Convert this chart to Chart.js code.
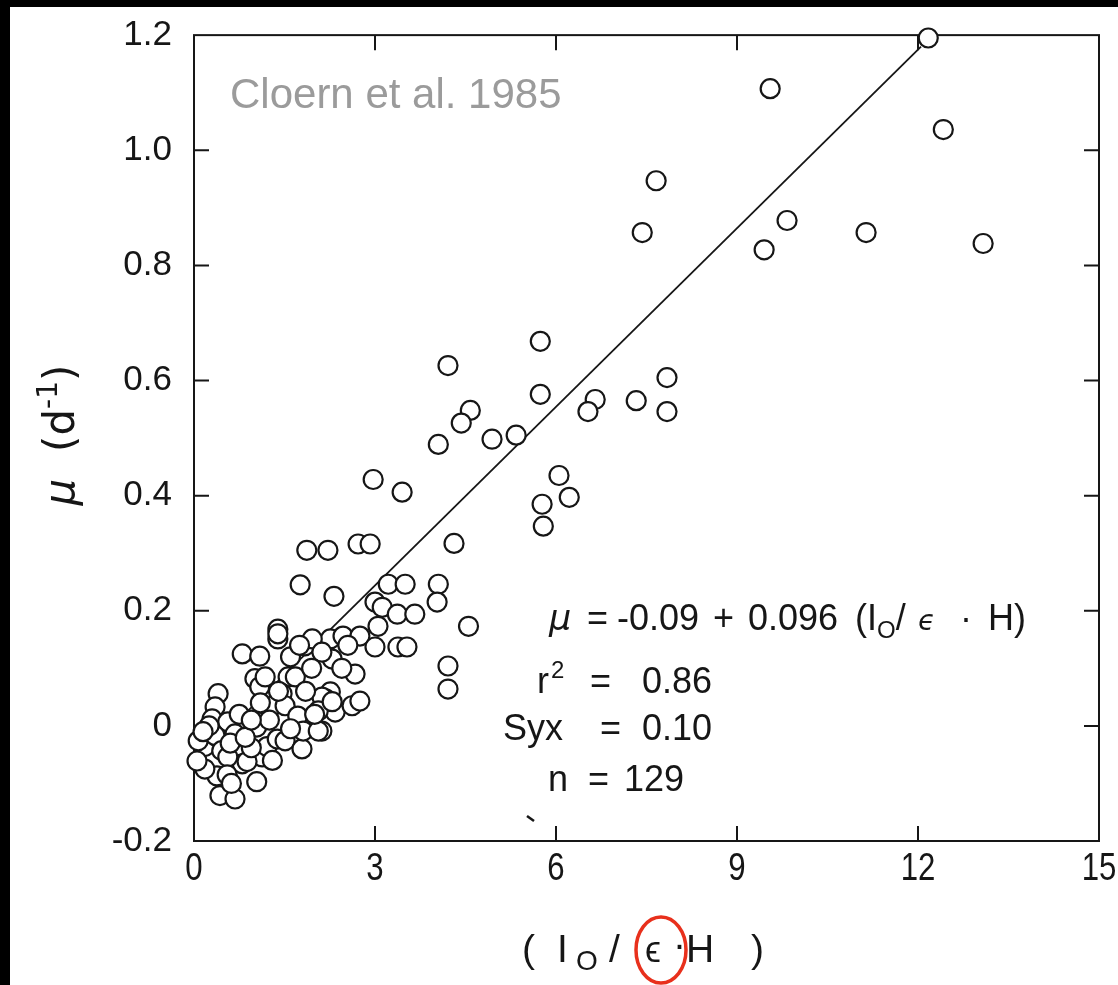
<!DOCTYPE html>
<html lang="en">
  <head>
    <meta charset="UTF-8" />
    <title>Cloern et al. 1985</title>
    <script src="https://cdn.jsdelivr.net/npm/chart.js@4.4.0/dist/chart.umd.min.js"></script>
    <style>
      html, body { margin: 0; padding: 0; background: #fff; }
      canvas { display: block; }
    </style>
  </head>
  <body>
    <canvas id="chart" width="1118" height="985"></canvas>
    <script>
      // light index Io / (eps . H)
      const lightIndex = [
        12.17, 9.55, 12.42, 7.66, 7.43, 9.83, 9.45, 11.14, 13.08, 5.74,
        4.21, 5.74, 7.84, 6.65, 7.33, 6.53, 7.84, 4.58, 4.43, 4.05,
        4.94, 5.34, 6.05, 6.22, 5.77, 5.79, 2.97, 3.45, 4.31, 1.87,
        2.22, 2.72, 2.92, 1.76, 2.32, 3.22, 3.5, 4.05, 4.03, 3.0,
        3.12, 3.37, 3.66, 4.55, 3.05, 2.26, 2.47, 2.75, 3.0, 3.38,
        3.53, 2.29, 2.67, 4.21, 4.21, 2.26, 2.18, 2.34, 2.62, 2.75,
        2.12, 1.39, 1.39, 1.39, 0.8, 1.09, 1.84, 1.96, 2.12, 1.01,
        1.09, 1.18, 1.56, 1.68, 1.46, 0.4, 0.35, 1.06, 1.31, 1.51,
        1.72, 2.12, 2.06, 2.29, 0.3, 0.56, 0.18, 0.07, 0.35, 0.68,
        0.46, 0.8, 0.38, 0.18, 1.04, 0.43, 0.68, 1.13, 1.21, 1.38,
        1.51, 1.79, 1.81, 2.06, 1.04, 0.56, 0.88, 0.05, 0.6, 0.95,
        0.25, 1.6, 1.25, 0.75, 1.85, 1.1, 0.55, 0.15, 1.95, 1.6,
        2.55, 1.75, 0.85, 1.4, 2.0, 0.62, 1.3, 2.45, 0.95
      ];
      // growth rate mu (d-1)
      const growthRate = [
        1.195, 1.107, 1.036, 0.947, 0.857, 0.878, 0.827, 0.857, 0.838, 0.668,
        0.626, 0.576, 0.605, 0.567, 0.565, 0.546, 0.546, 0.548, 0.526, 0.489,
        0.498, 0.505, 0.435, 0.397, 0.385, 0.347, 0.428, 0.406, 0.317, 0.305,
        0.305, 0.316, 0.316, 0.245, 0.225, 0.246, 0.246, 0.246, 0.215, 0.215,
        0.206, 0.194, 0.194, 0.173, 0.173, 0.151, 0.156, 0.156, 0.137, 0.137,
        0.137, 0.116, 0.09, 0.104, 0.064, 0.059, 0.047, 0.024, 0.035, 0.043,
        -0.009, 0.168, 0.151, 0.16, 0.125, 0.121, 0.139, 0.151, 0.128, 0.082,
        0.068, 0.085, 0.085, 0.085, 0.056, 0.056, 0.033, 0.007, 0.035, 0.035,
        0.017, 0.05, 0.026, 0.042, 0.012, 0.007, -0.036, -0.026, -0.017, -0.014,
        -0.043, -0.066, -0.087, -0.075, -0.097, -0.121, -0.127, -0.054, -0.036, -0.023,
        -0.026, -0.04, -0.009, -0.009, -0.002, -0.054, -0.062, -0.061, -0.03, -0.038,
        0.0, -0.005, 0.01, 0.02, 0.06, 0.04, -0.085, -0.01, 0.1, 0.12,
        0.14, 0.14, -0.02, 0.06, 0.02, -0.1, -0.06, 0.1, 0.01
      ];
      // regression line as drawn on the figure
      const fitX = [0.7, 12.05];
      const fitY = [0.006, 1.18];

      const xTickValues = [0, 3, 6, 9, 12, 15];
      const xTickLabels = ['0', '3', '6', '9', '12', '15'];
      const yTickValues = [-0.2, 0, 0.2, 0.4, 0.6, 0.8, 1.0, 1.2];
      const yTickLabels = ['-0.2', '0', '0.2', '0.4', '0.6', '0.8', '1.0', '1.2'];

      const SANS = "'Liberation Sans', Arial, Helvetica, sans-serif";
      const WIDE = "'DejaVu Sans', Verdana, sans-serif";
      const INK = '#161616';

      function labelFor(values, labels, v) {
        const i = values.findIndex(t => Math.abs(t - v) < 1e-6);
        return i < 0 ? '' : labels[i];
      }

      // draws text run by run, returns x after the last piece
      function runs(c, x, y, pieces) {
        pieces.forEach(p => {
          c.font = p.font;
          c.fillText(p.t, x, y + (p.dy || 0));
          x += c.measureText(p.t).width;
        });
        return x;
      }

      const framePlugin = {
        id: 'frame',
        beforeDraw(chart) {
          const c = chart.ctx;
          c.save();
          c.fillStyle = '#fff';
          c.fillRect(0, 0, chart.width, chart.height);
          c.fillStyle = '#000';
          c.fillRect(0, 0, chart.width, 7);
          c.fillRect(0, 0, 10, chart.height);
          c.restore();
        },
        beforeDatasetsDraw(chart) {
          const c = chart.ctx;
          const a = chart.chartArea;
          const sx = chart.scales.x;
          const sy = chart.scales.y;
          const len = 15;
          c.save();
          c.strokeStyle = INK;
          c.lineWidth = 2;
          c.strokeRect(a.left, a.top, a.right - a.left, a.bottom - a.top);
          c.beginPath();
          xTickValues.slice(1, -1).forEach(v => {
            const px = sx.getPixelForValue(v);
            c.moveTo(px, a.bottom); c.lineTo(px, a.bottom - len);
            c.moveTo(px, a.top); c.lineTo(px, a.top + len);
          });
          yTickValues.slice(1, -1).forEach(v => {
            const py = sy.getPixelForValue(v);
            c.moveTo(a.left, py); c.lineTo(a.left + len, py);
            c.moveTo(a.right, py); c.lineTo(a.right - len, py);
          });
          c.stroke();

          // x tick labels, condensed like the original typeface
          c.fillStyle = INK;
          c.textAlign = 'center';
          c.textBaseline = 'alphabetic';
          c.font = '39px ' + SANS;
          xTickValues.forEach((v, i) => {
            c.save();
            c.translate(sx.getPixelForValue(v), a.bottom + 39);
            c.scale(0.8, 1);
            c.fillText(xTickLabels[i], 0, 0);
            c.restore();
          });
          c.restore();
        },
        afterDraw(chart) {
          const c = chart.ctx;
          c.save();
          c.textBaseline = 'alphabetic';
          c.textAlign = 'left';

          // source note
          c.fillStyle = '#9b9b9b';
          c.font = '42px ' + SANS;
          c.fillText('Cloern et al. 1985', 230, 108);

          c.fillStyle = INK;
          // regression statistics
          const f = '36px ' + SANS;
          const fs = '24px ' + SANS;
          c.font = 'italic 35px ' + WIDE;
          c.fillText('μ', 549, 630);
          c.font = f;
          c.fillText('=', 587, 630);
          c.fillText('-0.09', 617, 630);
          c.fillText('+', 713, 630);
          c.fillText('0.096', 748, 630);
          runs(c, 855, 630, [
            { t: '(I', font: f }, { t: 'O', font: fs, dy: 8 }, { t: '/', font: f }
          ]);
          c.font = 'italic 28px ' + WIDE;
          c.fillText('ϵ', 918, 630);
          c.font = f;
          c.fillText('·', 960, 630);
          c.fillText('H)', 988, 630);

          c.font = f;
          c.fillText('r', 537, 693);
          c.font = fs;
          c.fillText('2', 551, 678);
          c.font = f;
          c.fillText('=', 590, 693);
          c.fillText('0.86', 642, 693);
          c.fillText('Syx', 503, 740);
          c.fillText('=', 600, 740);
          c.fillText('0.10', 642, 740);
          c.fillText('n', 548, 791);
          c.fillText('=', 588, 791);
          c.fillText('129', 624, 791);

          // stray mark
          c.lineWidth = 2.5;
          c.strokeStyle = INK;
          c.beginPath();
          c.moveTo(527, 816); c.lineTo(534, 821);
          c.stroke();

          // x axis title
          const ft = '39px ' + SANS;
          c.font = ft;
          c.fillText('(', 522, 962);
          c.fillText('I', 557, 962);
          c.font = '28px ' + SANS;
          c.fillText('O', 576, 970);
          c.font = ft;
          c.fillText('/', 609, 962);
          c.font = '36px ' + SANS;
          c.fillText('ϵ', 645, 962);
          c.font = ft;
          c.fillText('·', 673, 958);
          c.fillText('H', 686, 962);
          c.fillText(')', 751, 962);

          // red ring round the epsilon
          c.strokeStyle = '#e8301c';
          c.lineWidth = 3.5;
          c.beginPath();
          c.ellipse(661, 950, 25, 33, 0, 0, Math.PI * 2);
          c.stroke();

          // y axis title
          c.fillStyle = INK;
          c.translate(74, 435);
          c.rotate(-Math.PI / 2);
          const pieces = [
            { t: 'μ', font: 'italic 42px ' + WIDE }, { t: '  (d', font: '42px ' + WIDE },
            { t: '-1', font: '28px ' + WIDE, dy: -17 }, { t: ')', font: '42px ' + WIDE }
          ];
          let w = 0;
          pieces.forEach(p => { c.font = p.font; w += c.measureText(p.t).width; });
          runs(c, -w / 2, 0, pieces);
          c.restore();
        }
      };

      const ctx = document.getElementById('chart').getContext('2d');
      const chart = new Chart(ctx, {
        type: 'scatter',
        data: {
          datasets: [
            {
              type: 'scatter',
              data: lightIndex.map((x, i) => ({ x: x, y: growthRate[i] })),
              pointStyle: 'circle',
              pointRadius: 9.5,
              pointBorderWidth: 2.2,
              pointBackgroundColor: '#fff',
              pointBorderColor: INK,
              clip: false,
              order: 1
            },
            {
              type: 'line',
              data: fitX.map((x, i) => ({ x: x, y: fitY[i] })),
              borderColor: INK,
              borderWidth: 1.8,
              pointRadius: 0,
              fill: false,
              clip: false,
              order: 2
            }
          ]
        },
        options: {
          responsive: false,
          animation: false,
          events: [],
          layout: { padding: { left: 0, top: 33, right: 19, bottom: 0 } },
          plugins: { legend: { display: false }, tooltip: { enabled: false } },
          scales: {
            x: {
              type: 'linear',
              min: 0,
              max: 15,
              afterBuildTicks: s => { s.ticks = xTickValues.map(v => ({ value: v })); },
              afterFit: s => { s.height = 144; },
              grid: { display: false, drawTicks: false },
              border: { display: false },
              ticks: { display: false }
            },
            y: {
              type: 'linear',
              min: -0.2,
              max: 1.2,
              afterBuildTicks: s => { s.ticks = yTickValues.map(v => ({ value: v })); },
              afterFit: s => { s.width = 194; },
              grid: { display: false, drawTicks: false },
              border: { display: false },
              ticks: {
                autoSkip: false,
                padding: 22,
                color: INK,
                font: { family: SANS, size: 35, lineHeight: 0.75 },
                callback: v => labelFor(yTickValues, yTickLabels, v)
              }
            }
          }
        },
        plugins: [framePlugin]
      });
    </script>
  </body>
</html>
